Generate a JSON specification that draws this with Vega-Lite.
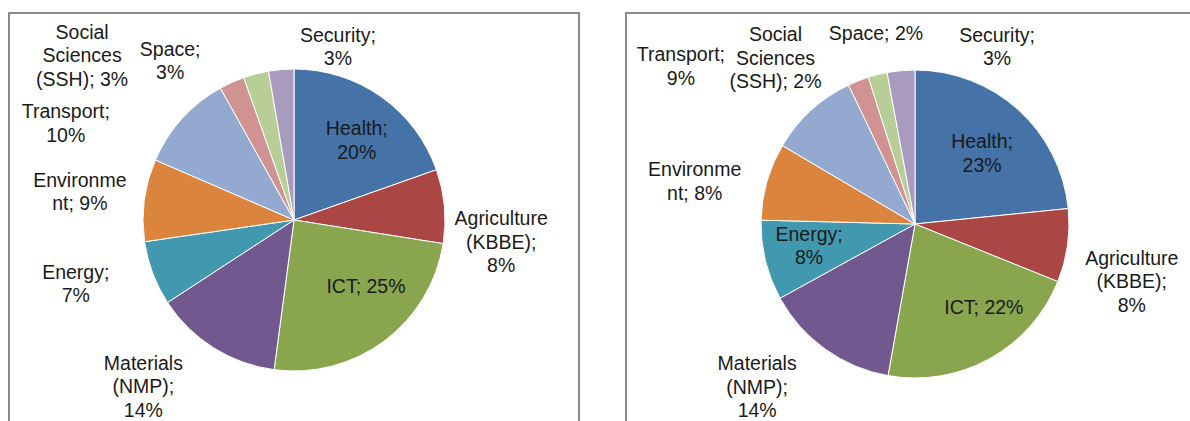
{
  "$schema": "https://vega.github.io/schema/vega-lite/v6.json",
  "background": "white",
  "padding": {"left": 8, "top": 12, "right": 0, "bottom": 0},
  "spacing": 45,
  "config": {
    "view": {"stroke": "#8a8a8a", "strokeWidth": 2},
    "text": {"font": "Liberation Sans", "fontSize": 19.5, "lineHeight": 23.5, "lineBreak": "\n", "align": "center", "baseline": "middle", "color": "#1a1a1a"}
  },
  "datasets": {
    "left": [
      {"idx": 1, "cat": "Health", "pct": 19.6, "label": "Health;\n20%"},
      {"idx": 2, "cat": "Agriculture (KBBE)", "pct": 7.9, "label": "Agriculture\n(KBBE);\n8%"},
      {"idx": 3, "cat": "ICT", "pct": 24.6, "label": "ICT; 25%"},
      {"idx": 4, "cat": "Materials (NMP)", "pct": 13.7, "label": "Materials\n(NMP);\n14%"},
      {"idx": 5, "cat": "Energy", "pct": 6.9, "label": "Energy;\n7%"},
      {"idx": 6, "cat": "Environment", "pct": 8.8, "label": "Environme\nnt; 9%"},
      {"idx": 7, "cat": "Transport", "pct": 10.4, "label": "Transport;\n10%"},
      {"idx": 8, "cat": "Social Sciences (SSH)", "pct": 2.7, "label": "Social\nSciences\n(SSH); 3%"},
      {"idx": 9, "cat": "Space", "pct": 2.7, "label": "Space;\n3%"},
      {"idx": 10, "cat": "Security", "pct": 2.7, "label": "Security;\n3%"}
    ],
    "right": [
      {"idx": 1, "cat": "Health", "pct": 23.4, "label": "Health;\n23%"},
      {"idx": 2, "cat": "Agriculture (KBBE)", "pct": 7.7, "label": "Agriculture\n(KBBE);\n8%"},
      {"idx": 3, "cat": "ICT", "pct": 21.7, "label": "ICT; 22%"},
      {"idx": 4, "cat": "Materials (NMP)", "pct": 14.2, "label": "Materials\n(NMP);\n14%"},
      {"idx": 5, "cat": "Energy", "pct": 8.4, "label": "Energy;\n8%"},
      {"idx": 6, "cat": "Environment", "pct": 8.1, "label": "Environme\nnt; 8%"},
      {"idx": 7, "cat": "Transport", "pct": 9.4, "label": "Transport;\n9%"},
      {"idx": 8, "cat": "Social Sciences (SSH)", "pct": 2.2, "label": "Social\nSciences\n(SSH); 2%"},
      {"idx": 9, "cat": "Space", "pct": 2.0, "label": "Space; 2%"},
      {"idx": 10, "cat": "Security", "pct": 2.9, "label": "Security;\n3%"}
    ]
  },
  "hconcat": [
    {
      "width": 570, "height": 414,
      "view": {"stroke": "#8a8a8a", "strokeWidth": 2},
      "data": {"name": "left"},
      "encoding": {
        "theta": {"field": "pct", "type": "quantitative", "stack": true},
        "order": {"field": "idx", "type": "quantitative"}
      },
      "layer": [
        {"mark": {"type": "arc", "outerRadius": 151, "stroke": "white", "strokeWidth": 1},
         "encoding": {"color": {"field": "cat", "type": "nominal", "legend": null,
           "scale": {"domain": ["Health", "Agriculture (KBBE)", "ICT", "Materials (NMP)", "Energy", "Environment", "Transport", "Social Sciences (SSH)", "Space", "Security"],
                     "range": ["#4572A7", "#AA4643", "#89A54E", "#71588F", "#4198AF", "#DB843D", "#93A9CF", "#D19392", "#B9CD96", "#A99BBD"]}}}},
        {"mark": {"type": "text",
                  "radius": {"expr": "[100,208,97,215,228,216,247,267,202,178][datum.idx-1]"},
                  "dx": {"expr": "[5,0,14,-36,-5,0,-45,-102,-73,59][datum.idx-1]"},
                  "dy": {"expr": "[-9,18,-11,-38,-28,-11,58,56,25,-7][datum.idx-1]"}},
         "encoding": {"text": {"field": "label"}}}
      ]
    },
    {
      "width": 578, "height": 422,
      "view": {"stroke": "#8a8a8a", "strokeWidth": 2},
      "data": {"name": "right"},
      "encoding": {
        "theta": {"field": "pct", "type": "quantitative", "stack": true},
        "order": {"field": "idx", "type": "quantitative"}
      },
      "layer": [
        {"mark": {"type": "arc", "outerRadius": 154, "stroke": "white", "strokeWidth": 1},
         "encoding": {"color": {"field": "cat", "type": "nominal", "legend": null,
           "scale": {"domain": ["Health", "Agriculture (KBBE)", "ICT", "Materials (NMP)", "Energy", "Environment", "Transport", "Social Sciences (SSH)", "Space", "Security"],
                     "range": ["#4572A7", "#AA4643", "#89A54E", "#71588F", "#4198AF", "#DB843D", "#93A9CF", "#D19392", "#B9CD96", "#A99BBD"]}}}},
        {"mark": {"type": "text",
                  "radius": {"expr": "[97,220,105,228,109,224,280,216,194,175][datum.idx-1]"},
                  "dx": {"expr": "[2,-1,18,-25,0,-5,-45,-60,8,98][datum.idx-1]"},
                  "dy": {"expr": "[-10,4,-8,-45,-15,8,38,12,-2,-14][datum.idx-1]"}},
         "encoding": {"text": {"field": "label"}}}
      ]
    }
  ]
}
